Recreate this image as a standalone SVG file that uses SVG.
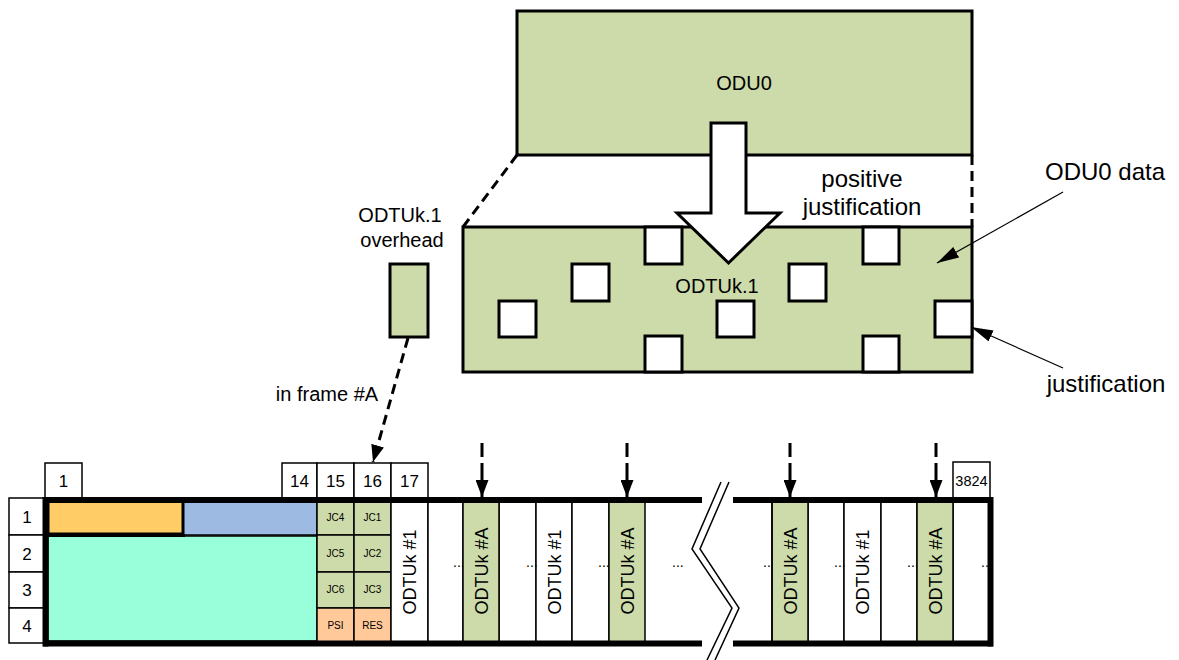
<svg xmlns="http://www.w3.org/2000/svg" width="1179" height="660" viewBox="0 0 1179 660">
<style>
text{font-family:"Liberation Sans",Arial,sans-serif;fill:#000}
.lbl{font-size:24px;text-anchor:middle}
.mid{font-size:20px;text-anchor:middle}
.hdr{font-size:17px;text-anchor:middle}
.sm{font-size:10px;text-anchor:middle}
.rot{font-size:18px;text-anchor:middle}
.dots{font-size:14px}
.box{stroke:#000;stroke-width:3}
.cell{stroke:#000;stroke-width:1.5}
.g{fill:#CCDBA9}
.w{fill:#fff}
.thick{stroke:#000;stroke-width:6;fill:none}
.dash{stroke:#000;stroke-width:3;fill:none;stroke-dasharray:10,6}
</style>
<defs>
<marker id="ah" viewBox="0 0 17 13" refX="17" refY="6.5" markerWidth="17" markerHeight="13" markerUnits="userSpaceOnUse" orient="auto">
<path d="M0,0 L17,6.5 L0,13 z" fill="#000"/>
</marker>
<marker id="ahs" viewBox="0 0 22 12" refX="22" refY="6" markerWidth="22" markerHeight="12" markerUnits="userSpaceOnUse" orient="auto">
<path d="M0,0 L22,6 L0,12 z" fill="#000"/>
</marker>
</defs>

<g id="odu0">
<rect class="box g" x="517" y="11" width="455" height="144"/>
<text class="mid" x="744" y="90">ODU0</text>
</g>

<g id="odtuk1">
<rect class="box g" x="463" y="227" width="509" height="145"/>
<rect class="box w" x="645" y="227" width="37" height="37"/>
<rect class="box w" x="572" y="264" width="37" height="37"/>
<rect class="box w" x="499" y="301" width="37" height="36"/>
<rect class="box w" x="717" y="301" width="37" height="36"/>
<rect class="box w" x="645" y="336" width="37" height="36"/>
<rect class="box w" x="789" y="264" width="37" height="37"/>
<rect class="box w" x="863" y="227" width="36" height="37"/>
<rect class="box w" x="863" y="336" width="36" height="36"/>
<rect class="box w" x="935" y="301" width="37" height="36"/>
<text class="mid" x="717" y="293">ODTUk.1</text>
</g>

<g id="big-arrow">
<path class="box w" d="M711,123 H746 V213 H780 L728.5,263 L677,213 H711 Z" stroke-linejoin="miter"/>
</g>

<g id="overhead">
<rect class="box g" x="390" y="264" width="38" height="73"/>
<text class="mid" x="400" y="222">ODTUk.1</text>
<text class="mid" x="402" y="247">overhead</text>
</g>

<g id="labels">
<text class="lbl" x="862" y="187">positive</text>
<text class="lbl" x="862" y="215">justification</text>
<text class="lbl" x="1105" y="180" font-size="24">ODU0 data</text>
<text class="lbl" x="1106" y="392">justification</text>
<text class="mid" x="327" y="401">in frame #A</text>
</g>

<g id="connectors">
<line class="dash" x1="517" y1="155" x2="463" y2="227"/>
<line class="dash" x1="972" y1="155" x2="972" y2="227"/>
<line class="dash" x1="408" y1="338" x2="373" y2="462" marker-end="url(#ah)"/>
<line x1="1063" y1="192" x2="937" y2="263" stroke="#000" stroke-width="1.2" marker-end="url(#ahs)"/>
<line x1="1063" y1="368" x2="971" y2="327" stroke="#000" stroke-width="1.2" marker-end="url(#ahs)"/>
<g stroke="#000" stroke-width="3" fill="none" stroke-dasharray="14,6,100">
<line x1="482" y1="443" x2="482" y2="497" marker-end="url(#ah)"/>
<line x1="627" y1="443" x2="627" y2="497" marker-end="url(#ah)"/>
<line x1="790" y1="443" x2="790" y2="497" marker-end="url(#ah)"/>
<line x1="936" y1="443" x2="936" y2="497" marker-end="url(#ah)"/>
</g>
</g>

<g id="col-headers">
<rect class="cell w" x="45" y="463" width="37" height="35"/>
<text class="hdr" x="63.5" y="487">1</text>
<rect class="cell w" x="282" y="463" width="35" height="35"/>
<text class="hdr" x="299.5" y="487">14</text>
<rect class="cell w" x="317" y="463" width="37" height="35"/>
<text class="hdr" x="335.5" y="487">15</text>
<rect class="cell w" x="354" y="463" width="37" height="35"/>
<text class="hdr" x="372.5" y="487">16</text>
<rect class="cell w" x="391" y="463" width="37" height="35"/>
<text class="hdr" x="409.5" y="487">17</text>
<rect class="cell w" x="953" y="462" width="37" height="36"/>
<text x="971.5" y="486" font-size="14.5" text-anchor="middle">3824</text>
</g>

<g id="row-headers">
<rect class="cell w" x="9" y="498" width="36" height="37"/>
<text class="hdr" x="27" y="523">1</text>
<rect class="cell w" x="9" y="535" width="36" height="37"/>
<text class="hdr" x="27" y="560">2</text>
<rect class="cell w" x="9" y="572" width="36" height="36"/>
<text class="hdr" x="27" y="596">3</text>
<rect class="cell w" x="9" y="608" width="36" height="35"/>
<text class="hdr" x="27" y="632">4</text>
</g>

<g id="overhead-area">
<rect x="48" y="500" width="269" height="35" fill="#9DBAE3" stroke="#000" stroke-width="1.5"/>
<rect x="48" y="500" width="135" height="34" fill="#FFCC66" stroke="#000" stroke-width="3"/>
<rect x="48" y="536" width="269" height="105" fill="#99FFDA" stroke="#000" stroke-width="1.5"/>
<line x1="45" y1="535.5" x2="185" y2="535.5" stroke="#000" stroke-width="3"/>
</g>

<g id="jc-cells">
<rect class="cell g" x="317" y="500" width="37" height="35"/><text class="sm" x="335.5" y="521">JC4</text>
<rect class="cell g" x="354" y="500" width="37" height="35"/><text class="sm" x="372.5" y="521">JC1</text>
<rect class="cell g" x="317" y="535" width="37" height="37"/><text class="sm" x="335.5" y="557">JC5</text>
<rect class="cell g" x="354" y="535" width="37" height="37"/><text class="sm" x="372.5" y="557">JC2</text>
<rect class="cell g" x="317" y="572" width="37" height="36"/><text class="sm" x="335.5" y="593">JC6</text>
<rect class="cell g" x="354" y="572" width="37" height="36"/><text class="sm" x="372.5" y="593">JC3</text>
<rect class="cell" x="317" y="608" width="37" height="35" fill="#FFC99A"/><text class="sm" x="335.5" y="629">PSI</text>
<rect class="cell" x="354" y="608" width="37" height="35" fill="#FFC99A"/><text class="sm" x="372.5" y="629">RES</text>
</g>

<g id="payload-columns">
<rect class="cell w" x="391" y="500" width="37" height="143"/>
<rect class="cell w" x="428" y="500" width="35" height="143"/>
<rect class="cell w" x="499" y="500" width="37" height="143"/>
<rect class="cell w" x="536" y="500" width="36" height="143"/>
<rect class="cell w" x="572" y="500" width="37" height="143"/>
<rect class="cell w" x="808" y="500" width="36" height="143"/>
<rect class="cell w" x="844" y="500" width="37" height="143"/>
<rect class="cell w" x="881" y="500" width="36" height="143"/>
<rect class="cell w" x="953" y="500" width="37" height="143"/>
<g class="dots">
<text x="453" y="567">...</text>
<text x="526" y="567">...</text>
<text x="598" y="567">...</text>
<text x="672" y="567">...</text>
<text x="763" y="567">...</text>
<text x="834" y="567">...</text>
<text x="907" y="567">...</text>
<text x="981" y="567">...</text>
</g>
<rect class="cell g" x="463" y="500" width="36" height="143"/>
<rect class="cell g" x="609" y="500" width="36" height="143"/>
<rect class="cell g" x="772" y="500" width="36" height="143"/>
<rect class="cell g" x="917" y="500" width="36" height="143"/>
<line x1="772" y1="500" x2="772" y2="643" stroke="#000" stroke-width="1.5"/>
<text class="rot" transform="translate(409.5,572) rotate(-90)" dy="6.5">ODTUk #1</text>
<text class="rot" transform="translate(481,571) rotate(-90)" dy="6.5">ODTUk #A</text>
<text class="rot" transform="translate(554,572) rotate(-90)" dy="6.5">ODTUk #1</text>
<text class="rot" transform="translate(627,571) rotate(-90)" dy="6.5">ODTUk #A</text>
<text class="rot" transform="translate(790,571) rotate(-90)" dy="6.5">ODTUk #A</text>
<text class="rot" transform="translate(862.5,572) rotate(-90)" dy="6.5">ODTUk #1</text>
<text class="rot" transform="translate(935,571) rotate(-90)" dy="6.5">ODTUk #A</text>
</g>

<g id="frame">
<line class="thick" x1="43" y1="500" x2="702" y2="500"/>
<line class="thick" x1="733" y1="500" x2="993" y2="500"/>
<line class="thick" x1="43" y1="643.5" x2="702" y2="643.5"/>
<line class="thick" x1="733" y1="643.5" x2="993" y2="643.5"/>
<line class="thick" x1="45.5" y1="497" x2="45.5" y2="646.5"/>
<line class="thick" x1="990.5" y1="497" x2="990.5" y2="646.5"/>
</g>

<g id="break" fill="none" stroke="#000" stroke-width="1.5">
<polyline points="721,482 692,549 732,608 707,660"/>
<polyline points="729,482 700,549 739,608 715,660"/>
</g>
</svg>
